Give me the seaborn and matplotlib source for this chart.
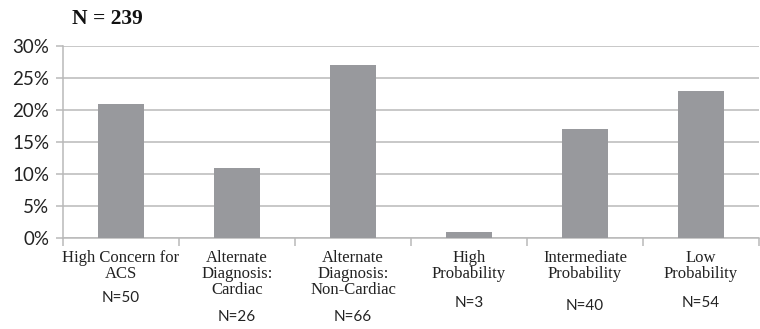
import matplotlib
matplotlib.use("Agg")
import matplotlib.pyplot as plt
import matplotlib.transforms as mtransforms
import seaborn as sns
import pandas as pd

categories = ["High Concern for\nACS", "Alternate\nDiagnosis:\nCardiac", "Alternate\nDiagnosis:\nNon-Cardiac",
              "High\nProbability", "Intermediate\nProbability", "Low\nProbability"]
values = [21, 11, 27, 1, 17, 23]
n_labels = ["N=50", "N=26", "N=66", "N=3", "N=40", "N=54"]
y_ticks = [0, 5, 10, 15, 20, 25, 30]
title = "N = 239"

df = pd.DataFrame({"cat": categories, "val": values})

sns.set_style("white")
fig = plt.figure(figsize=(7.6, 3.29), dpi=100)
ax = fig.add_axes([63/760, 1-238/329, 696/760, 192/329])

sns.barplot(data=df, x="cat", y="val", color="#98999d", width=0.4, saturation=1,
            linewidth=0, edgecolor="none", ax=ax, zorder=3)

grid_c = "#b9b9b9"
ax.set_ylim(0, 30)
ax.set_xlim(-0.5, len(categories)-0.5)
ax.set_yticks(y_ticks)
ax.set_yticklabels([f"{t}%" for t in y_ticks], fontsize=13.5, family="Lato", color="#222222")
ax.yaxis.grid(True, color=grid_c, linewidth=1.1, zorder=0)
ax.set_axisbelow(True)
for s in ["top", "right"]:
    ax.spines[s].set_visible(False)
for s in ["left", "bottom"]:
    ax.spines[s].set_color(grid_c)
    ax.spines[s].set_linewidth(1.1)
ax.tick_params(axis="y", length=5, color=grid_c, width=1.1, pad=5, left=True)

ax.set_xticks(range(len(categories)))
ax.set_xticklabels(categories, fontsize=12, family="Liberation Serif", color="#222222",
                   linespacing=1.02, va="top")
ax.tick_params(axis="x", length=0, pad=8.5)
ax.set_xticks([i + 0.5 for i in range(-1, len(categories))], minor=True)
ax.tick_params(axis="x", which="minor", length=6, color=grid_c, width=1.1, bottom=True)
ax.set_xlabel("")
ax.set_ylabel("")

trans = mtransforms.blended_transform_factory(ax.transData, fig.transFigure)
n_y = [298, 317, 317, 303, 306, 303]
for i, (lab, yy) in enumerate(zip(n_labels, n_y)):
    ax.text(i, 1 - yy/329, lab, transform=trans, ha="center", va="center",
            fontsize=11, family="Lato", color="#222222")

fig.text(72/760, 1-19/329, title, ha="left", va="center", fontsize=15.5,
         family="Liberation Serif", fontweight="bold", color="#111111")

fig.savefig("out.png", dpi=100)
